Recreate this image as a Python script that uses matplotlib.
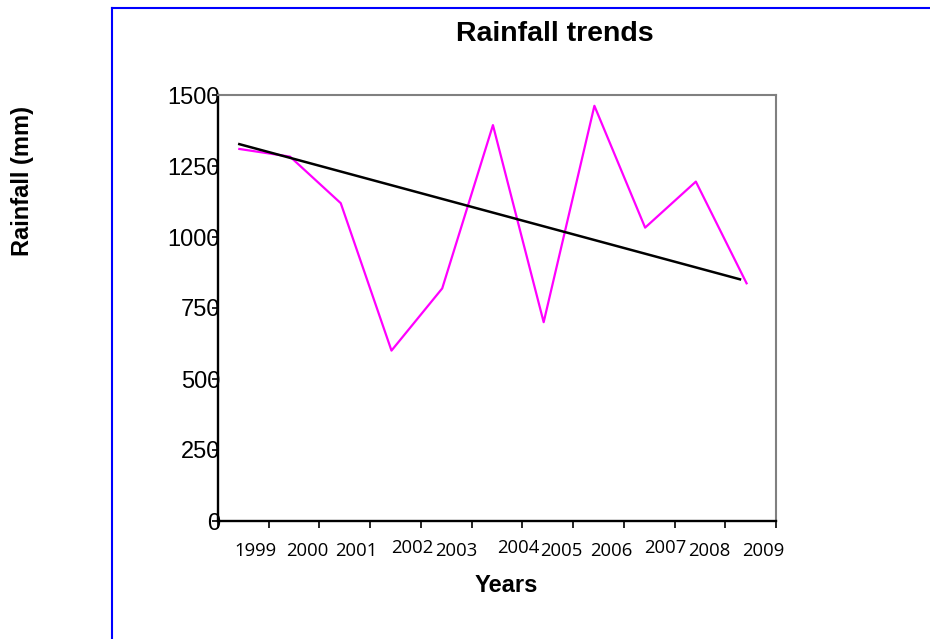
#! /usr/bin/env python3
"""Rainfall trends line chart with a linear trend line."""

import matplotlib
matplotlib.use('Agg')
import matplotlib.pyplot as plt
from matplotlib.lines import Line2D
from matplotlib.transforms import offset_copy

years = ['1999', '2000', '2001', '2002', '2003', '2004',
         '2005', '2006', '2007', '2008', '2009']
rainfall = [1310, 1283, 1119, 600, 819, 1394, 700, 1462, 1033, 1195, 837]
trend_start, trend_end = 1327, 851
y_ticks = [0, 250, 500, 750, 1000, 1250, 1500]

# layout of the odd category labels (pixel shifts, as in the original)
label_dx = [16, 17.5, 16, 21, 14.5, 25, 18, 17, 20, 13.5, 17]
label_up = [0, 0, 0, 3, 0, 3, 0, 0, 3, 0, 0]

W, H = 930, 639


def main():
    fig = plt.figure(figsize=(W / 100, H / 100), dpi=100)
    ax = fig.add_axes([218 / W, 1 - 521 / H, (776 - 218) / W, (521 - 95) / H])

    x = list(range(len(years)))
    ax.plot(x, rainfall, color='#ff00ff', lw=1.6, zorder=3)
    ax.plot([0, 9.87], [trend_start, trend_end], color='black', lw=1.8, zorder=4)

    ax.set_xlim(-0.42, len(years) - 0.42)
    ax.set_ylim(0, 1500)

    ax.set_xticks([-0.42 + k for k in range(len(years) + 1)])
    ax.set_xticklabels([])
    ax.tick_params(axis='x', direction='out', length=5, width=1.2, color='black')

    ax.set_yticks(y_ticks)
    ax.set_yticklabels([str(v) for v in y_ticks], fontsize=17,
                       family='Liberation Sans')
    ax.tick_params(axis='y', direction='out', length=4, width=1.2,
                   color='black', pad=-5.5)

    for side in ('left', 'bottom'):
        ax.spines[side].set_color('black')
        ax.spines[side].set_linewidth(1.7)
    for side in ('top', 'right'):
        ax.spines[side].set_color('#808080')
        ax.spines[side].set_linewidth(1.5)

    for i, lab in enumerate(years):
        tr = offset_copy(ax.transData, fig, x=label_dx[i],
                         y=-30 + label_up[i], units='dots')
        ax.text(i, 0, lab, transform=tr, ha='center', va='center',
                fontsize=13.3, family=['Open Sans', 'DejaVu Sans'])

    fig.text(554.5 / W, 1 - 41 / H, 'Rainfall trends', ha='center',
             va='baseline', fontsize=20.5, fontweight='bold',
             family='Liberation Sans')
    fig.text(506 / W, 1 - 592 / H, 'Years', ha='center', va='baseline',
             fontsize=17, fontweight='bold', family='Liberation Sans')
    fig.text(22 / W, 1 - 181 / H, 'Rainfall (mm)', ha='center', va='center',
             rotation=90, fontsize=17, fontweight='bold',
             family='Liberation Sans')

    # blue frame of the chart area
    fig.add_artist(Line2D([112 / W, 112 / W], [0, 1 - 8 / H],
                          color='#0000ff', lw=1.5, transform=fig.transFigure))
    fig.add_artist(Line2D([112 / W, 1], [1 - 8 / H, 1 - 8 / H],
                          color='#0000ff', lw=1.5, transform=fig.transFigure))

    fig.savefig('out.png', dpi=100)


if __name__ == "__main__":
    main()
